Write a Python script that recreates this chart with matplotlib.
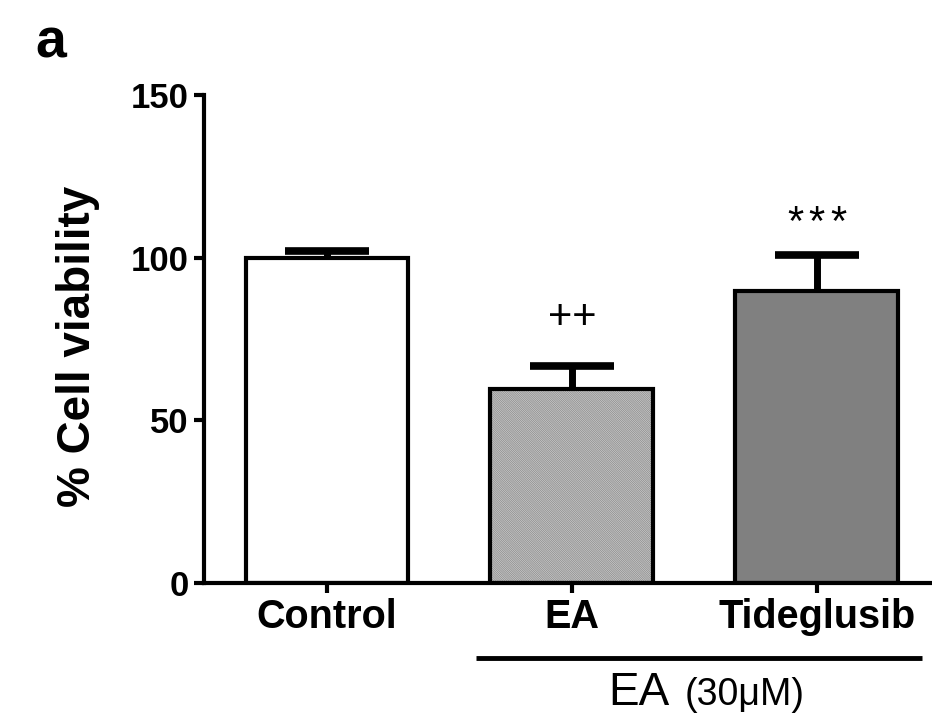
import matplotlib
matplotlib.use("Agg")
import matplotlib.pyplot as plt
import numpy as np

# ---------------------------------
# Data
# ---------------------------------
groups = ["Control", "EA", "Tideglusib"]
viability = [100.0, 59.7, 89.8]
sem = [2.2, 7.1, 11.1]
sig_marks = ["", "++", "***"]
sig_heights = [None, 81.5, 110.5]

plt.rcParams["font.family"] = ["Liberation Sans", "DejaVu Sans"]
plt.rcParams["hatch.linewidth"] = 0.7

fig = plt.figure(figsize=(9.32, 7.15), dpi=100)
ax = fig.add_axes([0.2189, 0.1846, 0.7811, 0.6825])

x = np.arange(len(groups))
width = 0.665
cap_half = 0.17

# plain bars
ax.bar(x[0], viability[0], width, color="white", edgecolor="black", linewidth=3, zorder=2)
ax.bar(x[2], viability[2], width, color="#808080", edgecolor="black", linewidth=3, zorder=2)

# hatched EA bar: hatch drawn in gray, outline drawn separately in black
ax.bar(x[1], viability[1], width, color="white", edgecolor="#8f8f8f", linewidth=0,
       hatch="\\" * 18, zorder=2)
ax.bar(x[1], viability[1], width, color="none", edgecolor="black", linewidth=3, zorder=3)

# upper error bars only (stem + cap)
tops = np.array(viability) + np.array(sem)
ax.vlines(x, viability, tops, color="black", linewidth=5, zorder=1)
ax.hlines(tops, x - cap_half, x + cap_half, color="black", linewidth=5.5, zorder=4)

# significance marks
for xi, mark, h in zip(x, sig_marks, sig_heights):
    if mark == "***":
        for off in (-15.5, 0, 15.5):
            ax.annotate("*", (xi, h), xytext=(off, 0), textcoords="offset points",
                        ha="center", va="center", fontsize=30)
    elif mark:
        ax.text(xi, h, mark, ha="center", va="center", fontsize=30)

ax.set_xlim(-0.502, 2.47)
ax.set_ylim(0, 150)
ax.set_yticks([0, 50, 100, 150])
ax.set_xticks(x)
ax.set_xticklabels(groups)

for lbl in ax.get_xticklabels():
    lbl.set_fontweight("bold")
    lbl.set_fontsize(28.5)
for lbl in ax.get_yticklabels():
    lbl.set_fontweight("bold")
    lbl.set_fontsize(25)

ax.spines["top"].set_visible(False)
ax.spines["right"].set_visible(False)
ax.spines["left"].set_linewidth(3)
ax.spines["bottom"].set_linewidth(3)
ax.tick_params(axis="both", length=7, width=3, pad=4)

ax.set_ylabel("% Cell viability", fontsize=33, fontweight="bold")
ax.yaxis.set_label_coords(-0.143, 0.484)

# bracket under EA-treated groups
ax.plot([0.608, 2.43], [-23.1, -23.1], color="black", linewidth=3.5, clip_on=False,
        solid_capstyle="butt")
ax.text(1.40, -37.6, "EA", ha="right", va="baseline", fontsize=33)
ax.text(1.461, -37.6, "(30μM)", ha="left", va="baseline", fontsize=27)

fig.text(0.0376, 0.920, "a", fontsize=40, fontweight="bold", va="baseline")

fig.savefig("out.png", dpi=100)
